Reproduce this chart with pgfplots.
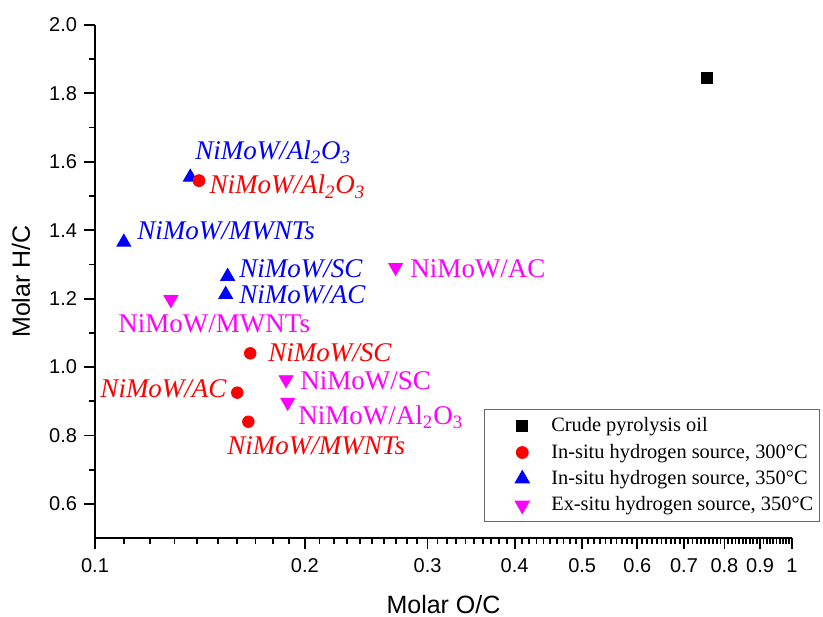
\documentclass[border=0pt]{standalone}
\usepackage{pgfplots}
\pgfplotsset{compat=1.18}
\usepackage{fontspec}
\setmainfont{Liberation Serif}
\newfontfamily\arial{Liberation Sans}
\definecolor{mag}{RGB}{255,0,255}
\definecolor{rd}{RGB}{255,0,0}
\definecolor{bl}{RGB}{0,0,255}
\begin{document}
\begin{tikzpicture}
\path[use as bounding box] (0,0) rectangle (411.5pt,308pt);
\begin{axis}[
  at={(47.5pt,39pt)}, anchor=south west,
  scale only axis, width=348.5pt, height=256.5pt,
  xmode=log, xmin=0.1, xmax=1, ymin=0.5, ymax=2.0,
  clip=false,
  axis x line*=bottom, axis y line*=left,
  axis line style={line width=1pt, black},
  tick align=outside,
  major tick length=5.3pt, minor tick length=2.8pt,
  every tick/.style={black, line width=0.9pt},
  xtick={0.1,0.2,0.3,0.4,0.5,0.6,0.7,0.8,0.9,1},
  xticklabels={0.1,0.2,0.3,0.4,0.5,0.6,0.7,0.8,0.9,1},
  minor xtick={0.11,0.12,0.13,0.14,0.15,0.16,0.17,0.18,0.19,
    0.21,0.22,0.23,0.24,0.25,0.26,0.27,0.28,0.29,
    0.31,0.32,0.33,0.34,0.35,0.36,0.37,0.38,0.39,
    0.41,0.42,0.43,0.44,0.45,0.46,0.47,0.48,0.49,
    0.51,0.52,0.53,0.54,0.55,0.56,0.57,0.58,0.59,
    0.61,0.62,0.63,0.64,0.65,0.66,0.67,0.68,0.69,
    0.71,0.72,0.73,0.74,0.75,0.76,0.77,0.78,0.79,
    0.81,0.82,0.83,0.84,0.85,0.86,0.87,0.88,0.89,
    0.91,0.92,0.93,0.94,0.95,0.96,0.97,0.98,0.99},
  ytick={0.6,0.8,1.0,1.2,1.4,1.6,1.8,2.0},
  minor ytick={0.7,0.9,1.1,1.3,1.5,1.7,1.9},
  ticklabel style={font=\arial\fontsize{10}{12}\selectfont},
  yticklabel style={/pgf/number format/fixed, /pgf/number format/fixed zerofill,
    /pgf/number format/precision=1, /pgf/number format/assume math mode=true,
    inner sep=0pt, xshift=-3.5pt},
  xticklabel style={inner sep=0pt, yshift=-4.7pt},
  xlabel={Molar O/C}, ylabel={Molar H/C},
  every axis x label/.style={at={(axis description cs:0.5,-0.1462)}, anchor=base,
    font=\arial\fontsize{12.5}{15}\selectfont},
  every axis y label/.style={at={(axis description cs:-0.0933,0.5)}, anchor=base, rotate=90,
    font=\arial\fontsize{12.5}{15}\selectfont},
  legend style={at={(axis description cs:1.040,0.2515)}, anchor=north east,
    draw=gray!80!black, line width=0.6pt,
    font=\fontsize{10.2}{12.5}\selectfont, inner xsep=1pt, row sep=0.6pt},
  legend cell align=left,
  legend image code/.code={\path[draw=none,fill=none] (0pt,0pt) (30.5pt,0pt);
    \draw[#1] plot coordinates {(18pt,0pt)};},
]
\addplot[only marks, mark=square*, mark size=2.8pt, black] coordinates {(0.755,1.845)};
\addlegendentry{Crude pyrolysis oil}
\addplot[only marks, mark=*, mark size=2.9pt, rd] coordinates {
  (0.141,1.545) (0.167,1.040) (0.160,0.925) (0.166,0.840)};
\addlegendentry{In-situ hydrogen source, 300°C}
\addplot[only marks, mark=triangle*, mark size=4pt, bl] coordinates {
  (0.137,1.555) (0.110,1.365) (0.155,1.265) (0.154,1.212)};
\addlegendentry{In-situ hydrogen source, 350°C}
\addplot[only marks, mark=triangle*, mark size=4pt, mag, mark options={rotate=180}] coordinates {
  (0.1285,1.197) (0.27,1.291) (0.188,0.963) (0.189,0.897)};
\addlegendentry{Ex-situ hydrogen source, 350°C}
\addplot[only marks, mark=*, mark size=2.9pt, rd, forget plot] coordinates {(0.141,1.545)};
% annotations
\begin{scope}[every node/.style={inner sep=0pt, anchor=base west, font=\fontsize{13.5}{16}\selectfont}]
\node[bl] at (axis cs:0.1391,1.608) {\textit{NiMoW/Al\textsubscript{2}O\textsubscript{3}}};
\node[rd] at (axis cs:0.1458,1.506) {\textit{NiMoW/Al\textsubscript{2}O\textsubscript{3}}};
\node[bl] at (axis cs:0.1149,1.374) {\textit{NiMoW/MWNTs}};
\node[bl] at (axis cs:0.1609,1.263) {\textit{NiMoW/SC}};
\node[bl] at (axis cs:0.1609,1.187) {\textit{NiMoW/AC}};
\node[mag] at (axis cs:0.2832,1.263) {NiMoW/AC};
\node[mag] at (axis cs:0.1079,1.102) {NiMoW/MWNTs};
\node[rd] at (axis cs:0.1771,1.0175) {\textit{NiMoW/SC}};
\node[rd] at (axis cs:0.1017,0.912) {\textit{NiMoW/AC}};
\node[mag] at (axis cs:0.1969,0.933) {NiMoW/SC};
\node[mag] at (axis cs:0.1956,0.833) {NiMoW/Al\textsubscript{2}O\textsubscript{3}};
\node[rd] at (axis cs:0.1547,0.743) {\textit{NiMoW/MWNTs}};
\end{scope}
\end{axis}
\end{tikzpicture}
\end{document}
